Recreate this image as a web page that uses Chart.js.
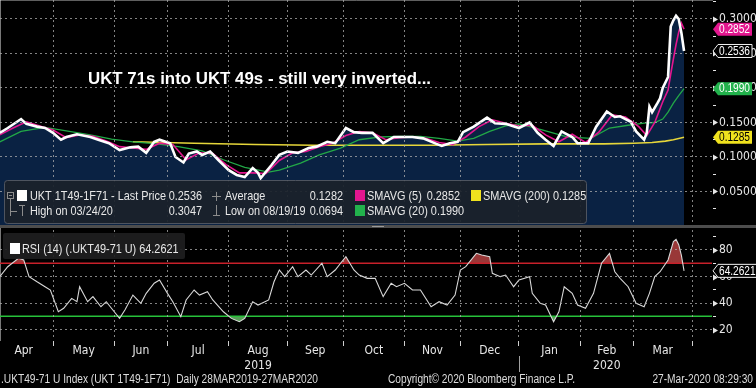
<!DOCTYPE html>
<html>
<head>
<meta charset="utf-8">
<script src="https://cdn.jsdelivr.net/npm/chart.js@4.4.0/dist/chart.umd.min.js"></script>
<style>
html, body { margin: 0; padding: 0; background: #000; }
</style>
</head>
<body>
<canvas id="c" width="756" height="388"></canvas>
<script>
// Fonts: condensed look of the terminal
const NARROW = "'Liberation Sans Narrow','Arial Narrow','DejaVu Sans Condensed','Liberation Sans',sans-serif";
const SANS = "'Liberation Sans',Arial,sans-serif";

// Data
const priceDates = ['2019-03-28','2019-04-03','2019-04-08','2019-04-15','2019-04-17','2019-04-23','2019-04-26','2019-05-01','2019-05-06','2019-05-08','2019-05-14','2019-05-21','2019-05-24','2019-05-30','2019-06-05','2019-06-11','2019-06-14','2019-06-19','2019-06-24','2019-06-26','2019-07-02','2019-07-04','2019-07-09','2019-07-11','2019-07-16','2019-07-18','2019-07-23','2019-07-26','2019-08-01','2019-08-06','2019-08-09','2019-08-14','2019-08-16','2019-08-19','2019-08-23','2019-08-28','2019-09-02','2019-09-06','2019-09-12','2019-09-17','2019-09-23','2019-09-26','2019-10-02','2019-10-07','2019-10-10','2019-10-16','2019-10-22','2019-10-28','2019-10-31','2019-11-06','2019-11-12','2019-11-19','2019-11-21','2019-11-26','2019-11-29','2019-12-03','2019-12-09','2019-12-16','2019-12-19','2019-12-25','2020-01-01','2020-01-07','2020-01-10','2020-01-15','2020-01-20','2020-01-23','2020-01-29','2020-01-31','2020-02-06','2020-02-11','2020-02-17','2020-02-20','2020-02-24','2020-02-28','2020-03-03','2020-03-06','2020-03-09','2020-03-10','2020-03-11','2020-03-13','2020-03-16','2020-03-17','2020-03-19','2020-03-20','2020-03-23','2020-03-24','2020-03-25','2020-03-26','2020-03-27'];
const priceValues = [0.128,0.135,0.142,0.155,0.148,0.144,0.142,0.135,0.125,0.129,0.133,0.129,0.125,0.120,0.110,0.114,0.115,0.106,0.122,0.125,0.120,0.100,0.092,0.105,0.108,0.103,0.108,0.096,0.081,0.074,0.071,0.084,0.077,0.0694,0.088,0.103,0.108,0.106,0.113,0.115,0.122,0.120,0.142,0.136,0.135,0.135,0.120,0.129,0.129,0.129,0.127,0.119,0.116,0.120,0.122,0.136,0.144,0.157,0.149,0.148,0.142,0.150,0.135,0.125,0.116,0.137,0.129,0.120,0.120,0.144,0.166,0.158,0.159,0.151,0.137,0.125,0.135,0.173,0.165,0.178,0.185,0.200,0.216,0.289,0.298,0.3047,0.300,0.280,0.2536];

const sma5Dates = ['2019-03-28','2019-04-03','2019-04-10','2019-04-17','2019-04-24','2019-05-01','2019-05-08','2019-05-15','2019-05-22','2019-05-29','2019-06-05','2019-06-12','2019-06-19','2019-06-26','2019-07-03','2019-07-10','2019-07-17','2019-07-24','2019-07-31','2019-08-07','2019-08-14','2019-08-21','2019-08-28','2019-09-04','2019-09-11','2019-09-18','2019-09-25','2019-10-02','2019-10-09','2019-10-16','2019-10-23','2019-10-30','2019-11-06','2019-11-13','2019-11-20','2019-11-27','2019-12-04','2019-12-11','2019-12-18','2019-12-25','2020-01-01','2020-01-08','2020-01-15','2020-01-22','2020-01-29','2020-02-05','2020-02-12','2020-02-19','2020-02-26','2020-03-04','2020-03-09','2020-03-12','2020-03-17','2020-03-19','2020-03-20','2020-03-23','2020-03-24','2020-03-25','2020-03-26','2020-03-27'];
const sma5Values = [0.130,0.132,0.142,0.151,0.145,0.139,0.128,0.132,0.130,0.123,0.115,0.113,0.111,0.120,0.118,0.096,0.106,0.105,0.089,0.077,0.077,0.076,0.095,0.106,0.108,0.115,0.120,0.131,0.137,0.135,0.125,0.128,0.129,0.127,0.121,0.118,0.129,0.144,0.154,0.149,0.145,0.146,0.132,0.122,0.133,0.121,0.136,0.161,0.158,0.144,0.131,0.150,0.180,0.197,0.220,0.242,0.263,0.281,0.294,0.2852];

const sma20Dates = ['2019-03-28','2019-04-03','2019-04-15','2019-04-26','2019-05-08','2019-05-21','2019-05-31','2019-06-12','2019-06-25','2019-07-05','2019-07-18','2019-07-30','2019-08-09','2019-08-22','2019-08-28','2019-09-09','2019-09-18','2019-09-30','2019-10-09','2019-10-21','2019-10-30','2019-11-11','2019-11-20','2019-11-29','2019-12-09','2019-12-17','2019-12-25','2020-01-01','2020-01-14','2020-01-27','2020-02-07','2020-02-18','2020-02-27','2020-03-06','2020-03-12','2020-03-17','2020-03-19','2020-03-23','2020-03-25','2020-03-27'];
const sma20Values = [0.118,0.122,0.137,0.143,0.138,0.132,0.126,0.122,0.119,0.115,0.109,0.096,0.085,0.078,0.081,0.091,0.103,0.113,0.125,0.129,0.130,0.130,0.127,0.123,0.127,0.137,0.145,0.148,0.139,0.129,0.127,0.142,0.146,0.149,0.150,0.155,0.165,0.178,0.189,0.1990];

const sma200Dates = ['2019-06-12','2019-07-15','2019-08-15','2019-09-16','2019-10-15','2019-11-15','2019-12-16','2020-01-15','2020-02-14','2020-03-02','2020-03-11','2020-03-18','2020-03-23','2020-03-27'];
const sma200Values = [0.122,0.120,0.118,0.117,0.117,0.117,0.118,0.119,0.119,0.120,0.121,0.123,0.125,0.1285];

const rsiDates = ['2019-03-28','2019-04-03','2019-04-08','2019-04-12','2019-04-16','2019-04-18','2019-04-23','2019-04-26','2019-04-30','2019-05-03','2019-05-07','2019-05-10','2019-05-14','2019-05-15','2019-05-20','2019-05-22','2019-05-27','2019-05-29','2019-06-03','2019-06-05','2019-06-07','2019-06-12','2019-06-17','2019-06-19','2019-06-24','2019-06-26','2019-07-01','2019-07-03','2019-07-08','2019-07-10','2019-07-15','2019-07-17','2019-07-22','2019-07-24','2019-07-30','2019-08-02','2019-08-07','2019-08-09','2019-08-14','2019-08-16','2019-08-22','2019-08-26','2019-08-28','2019-08-30','2019-09-04','2019-09-06','2019-09-11','2019-09-13','2019-09-19','2019-09-23','2019-09-26','2019-09-30','2019-10-02','2019-10-07','2019-10-09','2019-10-14','2019-10-17','2019-10-22','2019-10-25','2019-10-29','2019-11-01','2019-11-06','2019-11-11','2019-11-15','2019-11-20','2019-11-25','2019-11-28','2019-12-02','2019-12-04','2019-12-10','2019-12-12','2019-12-17','2019-12-18','2019-12-23','2019-12-25','2019-12-30','2020-01-01','2020-01-07','2020-01-08','2020-01-13','2020-01-15','2020-01-20','2020-01-22','2020-01-24','2020-01-29','2020-01-31','2020-02-05','2020-02-10','2020-02-13','2020-02-18','2020-02-20','2020-02-24','2020-02-27','2020-03-03','2020-03-06','2020-03-10','2020-03-12','2020-03-16','2020-03-19','2020-03-23','2020-03-24','2020-03-25','2020-03-26','2020-03-27'];
const rsiValues = [55,59.9,67.4,73.7,72.5,59.9,56,52.3,49.8,33.4,36,43.5,41,52.3,41,44.8,37.2,41,33.4,28.4,34.7,46,39.8,47.3,54.9,57.4,47.3,41,29.7,42.3,49.8,46,48.5,42.3,33.4,28.4,25.9,28.4,41,38.5,42.3,56,64.9,59.9,67.4,59.9,64.9,61.1,70,59.9,64.9,70,74.9,64.9,61.1,58.6,58.6,44.8,54.9,52.3,54.9,49.8,49.8,37.2,41,38.5,46,64.9,67.4,77.5,76.2,74.9,62.4,59.9,61.1,52.3,57.4,59.9,47.3,39.8,38.5,25.9,33.4,52.3,47.3,38.5,36,47.3,70,77.5,63.6,58.6,52.3,39.8,37.2,47.3,59.9,63.6,72.5,86.3,88,84,76,64.2621];
const rsiLevels = [70, 30];

const averagePrice = 0.1282;
const monthStarts = ['2019-04-01','2019-05-01','2019-06-03','2019-07-01','2019-08-01','2019-09-02','2019-10-01','2019-11-01','2019-12-02','2020-01-01','2020-02-03','2020-03-02','2020-04-01'];
const monthLabels = ['Apr','May','Jun','Jul',['Aug','2019'],'Sep','Oct','Nov','Dec','Jan',['Feb','2020'],'Mar'];
const priceTicks = [0.025,0.05,0.075,0.1,0.125,0.15,0.175,0.2,0.225,0.25,0.275,0.3,0.325];
const rsiTicks = [20,30,40,50,60,70,80,90];

// weekday index counted from the first date of the series
const BASE = Date.UTC(2019, 2, 28);
function wd(s) {
    const p = s.split('-').map(Number);
    const t = Date.UTC(p[0], p[1] - 1, p[2]);
    let n = 0;
    for (let u = BASE; u < t; u += 864e5) {
        const g = new Date(u).getUTCDay();
        if (g > 0 && g < 6) n++;
    }
    return n;
}
const pts = (dates, vals) => dates.map((d, i) => ({x: wd(d), y: vals[i]}));

const X_MIN = 4.09, X_MAX = 271.5;
const startIdx = monthStarts.map(wd);
const monthMids = monthLabels.map((l, i) => (startIdx[i] + startIdx[i + 1]) / 2);
const last = a => a[a.length - 1];

function txt(ctx, s, x, y, font, color, sx, align) {
    ctx.save();
    ctx.font = font;
    ctx.fillStyle = color;
    ctx.textBaseline = 'middle';
    ctx.textAlign = 'left';
    const w = ctx.measureText(s).width * sx;
    const x0 = align === 'right' ? x - w : align === 'center' ? x - w / 2 : x;
    ctx.translate(x0, y);
    ctx.scale(sx, 1);
    ctx.fillText(s, 0, 0);
    ctx.restore();
}
function fit(ctx, s, font, width) {
    ctx.save();
    ctx.font = font;
    const w = ctx.measureText(s).width;
    ctx.restore();
    return width / w;
}
function tag(ctx, yy, label, fill, stroke, color, w, sx) {
    const x0 = 713, h = 13;
    ctx.save();
    ctx.beginPath();
    ctx.moveTo(x0, yy);
    ctx.lineTo(x0 + 5, yy - h / 2);
    ctx.lineTo(x0 + w, yy - h / 2);
    ctx.lineTo(x0 + w, yy + h / 2);
    ctx.lineTo(x0 + 5, yy + h / 2);
    ctx.closePath();
    ctx.fillStyle = fill;
    ctx.fill();
    if (stroke) {
        ctx.strokeStyle = stroke;
        ctx.lineWidth = 1;
        ctx.stroke();
    }
    ctx.restore();
    txt(ctx, label, x0 + 6, yy + 0.5, '12px ' + SANS, color, sx, 'left');
}
function square(ctx, x, y, c) {
    ctx.fillStyle = c;
    ctx.fillRect(x, y, 10, 11);
}
// no label padding: the panels run edge to edge
function tight(s) {
    s.paddingTop = 0;
    s.paddingBottom = 0;
    s.paddingLeft = 0;
    s.paddingRight = 0;
}

const overlay = {
    id: 'overlay',
    afterDraw(chart) {
        const ctx = chart.ctx;
        const ys = chart.scales.y, rs = chart.scales.rsi, xs = chart.scales.x;

        // panel separator
        ctx.fillStyle = '#4d4d4d';
        ctx.fillRect(0, ys.bottom - 1, 756, 3);
        ctx.fillStyle = '#9a9a9a';
        ctx.fillRect(372, ys.bottom, 12, 1);

        // arrow heads on the labelled right-axis ticks
        ctx.fillStyle = '#e6e6e6';
        [[ys, priceTicks.filter(v => isMult(v, 0.05))], [rs, rsiTicks.filter(v => isMult(v, 20))]].forEach(([s, vals]) => {
            vals.forEach(v => {
                const py = Math.round(s.getPixelForValue(v)) + 0.5;
                ctx.beginPath();
                ctx.moveTo(713, py - 3);
                ctx.lineTo(718, py);
                ctx.lineTo(713, py + 3);
                ctx.closePath();
                ctx.fill();
            });
        });

        // title
        const title = 'UKT 71s into UKT 49s - still very inverted...';
        const tf = 'bold 17px ' + SANS;
        txt(ctx, title, 88, 79, tf, '#ffffff', fit(ctx, title, tf, 343), 'left');

        // legend box of the top panel
        ctx.save();
        ctx.fillStyle = 'rgba(27,33,43,0.93)';
        ctx.strokeStyle = 'rgba(85,90,100,0.9)';
        ctx.lineWidth = 1;
        ctx.beginPath();
        ctx.roundRect(4.5, 180.5, 582, 43, 3);
        ctx.fill();
        ctx.stroke();
        ctx.restore();

        const lf = '13px ' + SANS;
        const sx = fit(ctx, 'UKT 1T49-1F71 - Last Price', lf, 136);
        const fg = '#e8e8e8', dim = '#8c8c8c';
        const r1 = 196, r2 = 211;
        const hiIdx = priceValues.indexOf(Math.max(...priceValues));
        const loIdx = priceValues.indexOf(Math.min(...priceValues));
        const md = s => s.slice(5, 7) + '/' + s.slice(8, 10) + '/' + s.slice(2, 4);

        // tree glyphs
        ctx.save();
        ctx.strokeStyle = dim;
        ctx.lineWidth = 1;
        ctx.strokeRect(7.5, 192.5, 6, 6);
        ctx.beginPath();
        ctx.moveTo(9, 195.5); ctx.lineTo(12, 195.5);
        ctx.moveTo(10.5, 199); ctx.lineTo(10.5, 216);
        ctx.moveTo(10.5, 211.5); ctx.lineTo(17, 211.5);
        ctx.moveTo(19, 205.5); ctx.lineTo(25, 205.5);
        ctx.moveTo(22.5, 205.5); ctx.lineTo(22.5, 216);
        ctx.moveTo(212, 196.5); ctx.lineTo(221, 196.5);
        ctx.moveTo(216.5, 192); ctx.lineTo(216.5, 201);
        ctx.moveTo(216.5, 205); ctx.lineTo(216.5, 215);
        ctx.moveTo(213, 215.5); ctx.lineTo(220, 215.5);
        ctx.stroke();
        ctx.restore();

        square(ctx, 17, 190, '#ffffff');
        txt(ctx, 'UKT 1T49-1F71 - Last Price', 30, r1, lf, fg, sx, 'left');
        txt(ctx, last(priceValues).toFixed(4), 202, r1, lf, fg, sx, 'right');
        txt(ctx, 'Average', 225, r1, lf, fg, sx, 'left');
        txt(ctx, averagePrice.toFixed(4), 343, r1, lf, fg, sx, 'right');
        square(ctx, 355, 190, '#e3168f');
        txt(ctx, 'SMAVG (5)', 367, r1, lf, fg, sx, 'left');
        txt(ctx, last(sma5Values).toFixed(4), 460, r1, lf, fg, sx, 'right');
        square(ctx, 471, 190, '#f0e21e');
        txt(ctx, 'SMAVG (200) ' + last(sma200Values).toFixed(4), 483, r1, lf, fg, sx, 'left');

        txt(ctx, 'High on ' + md(priceDates[hiIdx]), 30, r2, lf, fg, sx, 'left');
        txt(ctx, priceValues[hiIdx].toFixed(4), 202, r2, lf, fg, sx, 'right');
        txt(ctx, 'Low on ' + md(priceDates[loIdx]), 225, r2, lf, fg, sx, 'left');
        txt(ctx, priceValues[loIdx].toFixed(4), 343, r2, lf, fg, sx, 'right');
        square(ctx, 355, 205, '#22b24c');
        txt(ctx, 'SMAVG (20) ' + last(sma20Values).toFixed(4), 367, r2, lf, fg, sx, 'left');

        // RSI legend
        ctx.save();
        ctx.fillStyle = 'rgba(30,30,32,0.92)';
        ctx.beginPath();
        ctx.roundRect(3, 233, 182, 26, 2);
        ctx.fill();
        ctx.restore();
        square(ctx, 10, 243, '#ffffff');
        txt(ctx, 'RSI (14) (.UKT49-71 U) ' + last(rsiValues).toFixed(4), 22, 249, lf, fg, sx, 'left');

        // value tags on the right axis
        const tsx = fit(ctx, '0.2852', '12px ' + SANS, 31);
        tag(ctx, ys.getPixelForValue(last(sma5Values)), last(sma5Values).toFixed(4), '#e3168f', null, '#ffffff', 39, tsx);
        tag(ctx, ys.getPixelForValue(last(priceValues)), last(priceValues).toFixed(4), '#000000', '#f0f0f0', '#ffffff', 39, tsx);
        tag(ctx, ys.getPixelForValue(last(sma20Values)), last(sma20Values).toFixed(4), '#22b24c', null, '#ffffff', 39, tsx);
        tag(ctx, ys.getPixelForValue(last(sma200Values)), last(sma200Values).toFixed(4), '#f0e21e', null, '#000000', 39, tsx);
        tag(ctx, rs.getPixelForValue(last(rsiValues)), last(rsiValues).toFixed(4), '#000000', '#f0f0f0', '#ffffff', 45, tsx);

        // year divider under the axis
        const jx = Math.round(xs.getPixelForValue(wd('2020-01-01'))) + 0.5;
        ctx.save();
        ctx.strokeStyle = '#a0a0a0';
        ctx.beginPath();
        ctx.moveTo(jx, 356);
        ctx.lineTo(jx, 372);
        ctx.stroke();
        ctx.restore();

        // footer
        const ff = '12px ' + SANS;
        const foot = '.UKT49-71 U Index (UKT 1T49-1F71)  Daily 28MAR2019-27MAR2020';
        const fsx = fit(ctx, foot, ff, 317);
        txt(ctx, foot, 1, 380, ff, '#dddddd', fsx, 'left');
        txt(ctx, 'Copyright\u00a9 2020 Bloomberg Finance L.P.', 388, 380, ff, '#dddddd', fsx, 'left');
        txt(ctx, '27-Mar-2020 08:29:30', 753, 380, ff, '#dddddd', fsx, 'right');
    }
};

Chart.defaults.font.family = NARROW;
Chart.defaults.color = '#e0e0e0';

const gridDot = 'rgba(175,175,175,0.75)';
const isMult = (v, s) => Math.abs(v / s - Math.round(v / s)) < 1e-6;

new Chart(document.getElementById('c'), {
    type: 'line',
    data: {
        datasets: [
            {data: pts(priceDates, priceValues), yAxisID: 'y', borderColor: '#ffffff', borderWidth: 2.6, fill: 'origin', backgroundColor: '#0a2243'},
            {data: pts(sma5Dates, sma5Values), yAxisID: 'y', borderColor: '#e3168f', borderWidth: 1.6, fill: false},
            {data: pts(sma20Dates, sma20Values), yAxisID: 'y', borderColor: '#22a847', borderWidth: 1.3, fill: false},
            {data: pts(sma200Dates, sma200Values), yAxisID: 'y', borderColor: '#e6d63a', borderWidth: 1.6, fill: false},
            {data: pts(rsiDates, rsiValues), yAxisID: 'rsi', borderColor: '#d9d9d9', borderWidth: 1.1,
                fill: {value: rsiLevels[0], above: 'rgba(170,62,62,0.9)', below: 'rgba(0,0,0,0)'}},
            {data: pts(rsiDates, rsiValues), yAxisID: 'rsi', borderColor: 'rgba(0,0,0,0)', borderWidth: 0,
                fill: {value: rsiLevels[1], above: 'rgba(0,0,0,0)', below: 'rgba(95,175,95,0.9)'}},
            {data: [{x: X_MIN, y: rsiLevels[0]}, {x: X_MAX, y: rsiLevels[0]}], yAxisID: 'rsi', borderColor: '#c8202a', borderWidth: 1.6, fill: false},
            {data: [{x: X_MIN, y: rsiLevels[1]}, {x: X_MAX, y: rsiLevels[1]}], yAxisID: 'rsi', borderColor: '#27c23a', borderWidth: 1.6, fill: false}
        ]
    },
    options: {
        responsive: false,
        animation: false,
        layout: {padding: {left: 0, right: 0, top: 0, bottom: 14}, autoPadding: false},
        elements: {point: {radius: 0}, line: {tension: 0}},
        plugins: {legend: {display: false}, tooltip: {enabled: false}, filler: {drawTime: 'beforeDatasetsDraw'}},
        scales: {
            x: {
                type: 'linear', position: 'bottom', min: X_MIN, max: X_MAX,
                afterBuildTicks: s => { s.ticks = startIdx.filter(v => v >= X_MIN && v <= X_MAX).map(v => ({value: v})); },
                afterFit: s => { s.height = 0; tight(s); },
                ticks: {display: false},
                grid: {color: gridDot, tickColor: '#cfcfcf', tickLength: 6, z: 1},
                border: {color: '#bdbdbd', width: 1, dash: [2, 3]}
            },
            xl: {
                type: 'linear', position: 'bottom', min: X_MIN, max: X_MAX,
                afterBuildTicks: s => { s.ticks = monthMids.map(v => ({value: v})); },
                afterFit: s => { s.height = 34; tight(s); },
                grid: {display: false, drawTicks: false},
                border: {display: false},
                ticks: {autoSkip: false, maxRotation: 0, padding: 3, color: '#e6e6e6', font: {size: 12, lineHeight: 1.25},
                    callback: (v, i) => monthLabels[i]}
            },
            y: {
                position: 'right', stack: 'panels', stackWeight: 226, min: 0, max: 0.3275,
                afterBuildTicks: s => { s.ticks = priceTicks.map(v => ({value: v})); },
                afterFit: s => { s.width = 44; tight(s); },
                ticks: {autoSkip: false, padding: 3, color: '#e6e6e6', font: {size: 12},
                    callback: v => isMult(v, 0.05) ? v.toFixed(4) : ''},
                grid: {color: c => isMult(c.tick.value, 0.05) ? gridDot : 'rgba(0,0,0,0)', tickColor: '#e6e6e6', tickLength: 4, z: 1},
                border: {color: '#f0f0f0', width: 1, dash: [2, 3]}
            },
            rsi: {
                position: 'right', stack: 'panels', stackWeight: 114, min: 12.1, max: 98.1,
                afterBuildTicks: s => { s.ticks = rsiTicks.map(v => ({value: v})); },
                afterFit: s => { s.width = 44; tight(s); },
                ticks: {autoSkip: false, padding: 3, color: '#e6e6e6', font: {size: 12},
                    callback: v => isMult(v, 20) ? String(v) : ''},
                grid: {color: c => isMult(c.tick.value, 20) ? gridDot : 'rgba(0,0,0,0)', tickColor: '#e6e6e6', tickLength: 4, z: 1},
                border: {color: '#f0f0f0', width: 1, dash: [2, 3]}
            }
        }
    },
    plugins: [overlay]
});
</script>
</body>
</html>
